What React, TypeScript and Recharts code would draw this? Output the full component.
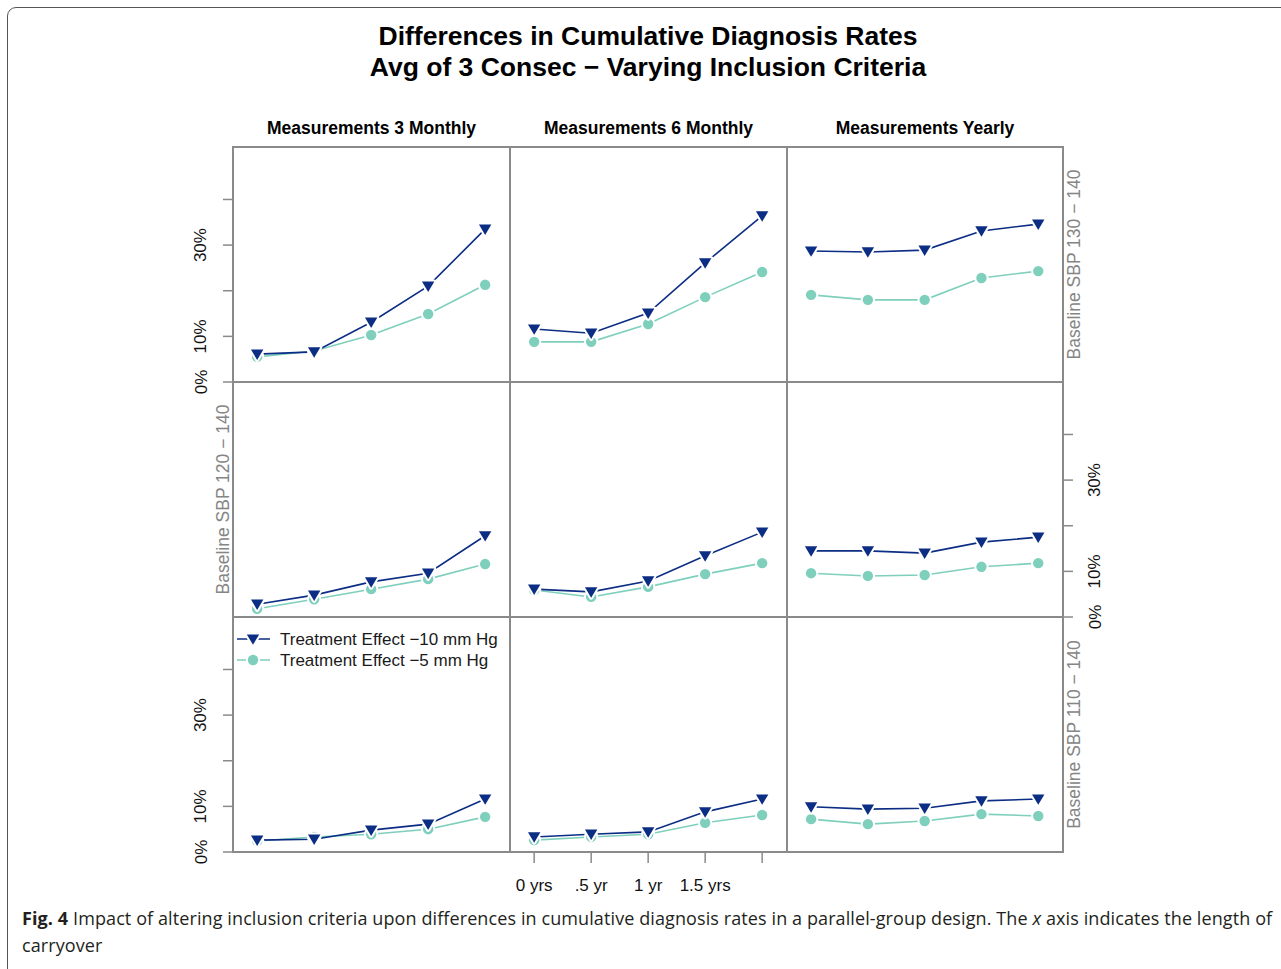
import React from "react";
import { LineChart, Line, XAxis, YAxis } from "recharts";

// carryover length (years) on the x axis
const carryover = [0, 0.5, 1, 1.5, 2];
const carryoverLabels = ["0 yrs", ".5 yr", "1 yr", "1.5 yrs", ""];

const schedules = ["Measurements 3 Monthly", "Measurements 6 Monthly", "Measurements Yearly"];
const baselines = ["Baseline SBP 130 − 140", "Baseline SBP 120 − 140", "Baseline SBP 110 − 140"];
const seriesNames = ["Treatment Effect −10 mm Hg", "Treatment Effect −5 mm Hg"];

const yTicks = [0, 10, 20, 30, 40];
const yTickLabels = ["0%", "10%", "", "30%", ""];

// differences in cumulative diagnosis rate (%), per baseline row / schedule column
const sbp130_3mo_fx10 = [6.1, 6.6, 13.1, 21.0, 33.5];
const sbp130_3mo_fx5 = [5.5, 6.8, 10.3, 14.9, 21.3];
const sbp130_6mo_fx10 = [11.6, 10.7, 15.1, 26.1, 36.4];
const sbp130_6mo_fx5 = [8.8, 8.8, 12.7, 18.6, 24.1];
const sbp130_yr_fx10 = [28.7, 28.5, 28.9, 33.1, 34.6];
const sbp130_yr_fx5 = [19.1, 18.0, 18.0, 22.8, 24.3];

const sbp120_3mo_fx10 = [2.8, 4.8, 7.7, 9.6, 17.8];
const sbp120_3mo_fx5 = [1.8, 3.9, 6.1, 8.3, 11.6];
const sbp120_6mo_fx10 = [6.1, 5.5, 7.9, 13.4, 18.6];
const sbp120_6mo_fx5 = [5.9, 4.4, 6.6, 9.4, 11.8];
const sbp120_yr_fx10 = [14.5, 14.5, 14.0, 16.4, 17.5];
const sbp120_yr_fx5 = [9.6, 9.0, 9.2, 11.0, 11.8];

const sbp110_3mo_fx10 = [2.6, 2.8, 4.8, 6.1, 11.6];
const sbp110_3mo_fx5 = [2.4, 3.3, 3.9, 5.0, 7.7];
const sbp110_6mo_fx10 = [3.3, 3.9, 4.4, 8.8, 11.6];
const sbp110_6mo_fx5 = [2.6, 3.3, 3.9, 6.4, 8.1];
const sbp110_yr_fx10 = [9.9, 9.4, 9.6, 11.2, 11.6];
const sbp110_yr_fx5 = [7.2, 6.1, 6.8, 8.3, 7.9];

const panels = [
  [[sbp130_3mo_fx10, sbp130_3mo_fx5], [sbp130_6mo_fx10, sbp130_6mo_fx5], [sbp130_yr_fx10, sbp130_yr_fx5]],
  [[sbp120_3mo_fx10, sbp120_3mo_fx5], [sbp120_6mo_fx10, sbp120_6mo_fx5], [sbp120_yr_fx10, sbp120_yr_fx5]],
  [[sbp110_3mo_fx10, sbp110_3mo_fx5], [sbp110_6mo_fx10, sbp110_6mo_fx5], [sbp110_yr_fx10, sbp110_yr_fx5]],
];

const NAVY = "#0c2d84";
const TEAL = "#7fcfbd";
const FRAME = "#8a8a8a";
const FONT = "'Liberation Sans', Arial, Helvetica, sans-serif";

const COL_X = [233, 510, 787];
const COL_W = [277, 277, 276];
const ROW_Y = [147, 382, 617];
const ROW_H = 235;
const PAD = 60;
const X_DOMAIN = [-0.212, 2.218];
const Y_DOMAIN = [0, 51.5];

function Triangle({ cx, cy }: { cx: number; cy: number }) {
  return (
    <path
      d={`M${cx - 6.2},${cy - 4.6} L${cx + 6.2},${cy - 4.6} L${cx},${cy + 5.8} Z`}
      fill={NAVY}
      stroke="#fff"
      strokeWidth={4}
      strokeLinejoin="round"
      paintOrder="stroke"
    />
  );
}

function Dot({ cx, cy }: { cx: number; cy: number }) {
  return <circle cx={cx} cy={cy} r={5.2} fill={TEAL} stroke="#fff" strokeWidth={4} paintOrder="stroke" />;
}

function Panel({ row, col }: { row: number; col: number }) {
  const [fx10, fx5] = panels[row][col];
  const left = col === 0 && row !== 1;
  const right = col === 2 && row === 1;
  const bottom = row === 2 && col === 1;
  const w = COL_W[col];
  const data = carryover.map((x, i) => ({ x, fx10: fx10[i], fx5: fx5[i] }));

  return (
    <div style={{ position: "absolute", left: COL_X[col] - PAD, top: ROW_Y[row] - PAD }}>
      <LineChart
        width={w + 2 * PAD}
        height={ROW_H + 2 * PAD}
        data={data}
        margin={{ top: PAD, left: left ? 0 : PAD, right: right ? 0 : PAD, bottom: bottom ? 0 : PAD }}
      >
        <XAxis
          type="number"
          dataKey="x"
          domain={X_DOMAIN}
          allowDataOverflow
          hide={!bottom}
          ticks={carryover}
          interval={0}
          height={PAD}
          tickSize={11}
          axisLine={false}
          tickLine={{ stroke: FRAME, strokeWidth: 1.5 }}
          tick={(p: any) => (
            <text
              x={p.x}
              y={PAD + ROW_H + 33}
              textAnchor="middle"
              dominantBaseline="central"
              fontFamily={FONT}
              fontSize={17}
              fill="#111"
            >
              {carryoverLabels[carryover.indexOf(p.payload.value)]}
            </text>
          )}
        />
        <YAxis
          type="number"
          domain={Y_DOMAIN}
          allowDataOverflow
          hide={!left && !right}
          orientation={right ? "right" : "left"}
          ticks={yTicks}
          interval={0}
          width={PAD}
          tickSize={10}
          axisLine={false}
          tickLine={{ stroke: FRAME, strokeWidth: 1.5 }}
          tick={(p: any) => {
            const tx = right ? PAD + w + 32 : PAD - 32;
            return (
              <text
                x={tx}
                y={p.y}
                transform={`rotate(-90, ${tx}, ${p.y})`}
                textAnchor="middle"
                dominantBaseline="central"
                fontFamily={FONT}
                fontSize={17}
                fill="#111"
              >
                {yTickLabels[yTicks.indexOf(p.payload.value)]}
              </text>
            );
          }}
        />
        <Line
          dataKey="fx5"
          stroke={TEAL}
          strokeWidth={1.6}
          isAnimationActive={false}
          dot={(p: any) => <Dot key={p.index} cx={p.cx} cy={p.cy} />}
          activeDot={false}
        />
        <Line
          dataKey="fx10"
          stroke={NAVY}
          strokeWidth={1.6}
          isAnimationActive={false}
          dot={(p: any) => <Triangle key={p.index} cx={p.cx} cy={p.cy} />}
          activeDot={false}
        />
      </LineChart>
    </div>
  );
}

export default function App() {
  const stripX = [1074, 223, 1074];
  return (
    <div style={{ position: "relative", width: 1281, height: 969, overflow: "hidden", background: "#fff" }}>
      <style>{"body{margin:0}"}</style>
      <div
        style={{
          position: "absolute",
          left: 7,
          top: 7,
          width: 1320,
          height: 1020,
          border: "1.5px solid #555",
          borderRadius: 9,
        }}
      />
      {ROW_Y.map((y, r) =>
        COL_X.map((x, c) => (
          <div
            key={`f${r}${c}`}
            style={{
              position: "absolute",
              left: x - 1,
              top: y - 1,
              width: COL_W[c] + 2,
              height: ROW_H + 2,
              boxSizing: "border-box",
              border: `2px solid ${FRAME}`,
            }}
          />
        ))
      )}
      {ROW_Y.map((_, r) => COL_X.map((__, c) => <Panel key={`p${r}${c}`} row={r} col={c} />))}
      <svg width={1281} height={969} style={{ position: "absolute", left: 0, top: 0, pointerEvents: "none" }}>
        <text x={648} y={36} textAnchor="middle" dominantBaseline="central" fontFamily={FONT} fontWeight="bold" fontSize={26.5} fill="#000">
          Differences in Cumulative Diagnosis Rates
        </text>
        <text x={648} y={67} textAnchor="middle" dominantBaseline="central" fontFamily={FONT} fontWeight="bold" fontSize={26.5} fill="#000">
          Avg of 3 Consec − Varying Inclusion Criteria
        </text>
        {schedules.map((s, c) => (
          <text
            key={s}
            x={COL_X[c] + COL_W[c] / 2}
            y={128}
            textAnchor="middle"
            dominantBaseline="central"
            fontFamily={FONT}
            fontWeight="bold"
            fontSize={17.5}
            fill="#000"
          >
            {s}
          </text>
        ))}
        {baselines.map((b, r) => {
          const cy = ROW_Y[r] + ROW_H / 2;
          return (
            <text
              key={b}
              x={stripX[r]}
              y={cy}
              transform={`rotate(-90, ${stripX[r]}, ${cy})`}
              textAnchor="middle"
              dominantBaseline="central"
              fontFamily={FONT}
              fontSize={17.5}
              fill="#858585"
            >
              {b}
            </text>
          );
        })}
        {seriesNames.map((n, i) => {
          const ly = 639 + i * 21;
          return (
            <g key={n}>
              <line x1={237} x2={270} y1={ly} y2={ly} stroke={i === 0 ? NAVY : TEAL} strokeWidth={1.6} />
              {i === 0 ? <Triangle cx={253} cy={ly} /> : <Dot cx={253} cy={ly} />}
              <text x={280} y={ly} dominantBaseline="central" fontFamily={FONT} fontSize={17} fill="#1a1a1a">
                {n}
              </text>
            </g>
          );
        })}
      </svg>
      <div
        style={{
          position: "absolute",
          left: 22,
          top: 905,
          fontFamily: "'Open Sans', sans-serif",
          fontSize: 18,
          letterSpacing: 0.1,
          lineHeight: "27px",
          color: "#231f20",
          whiteSpace: "nowrap",
        }}
      >
        <b>Fig. 4</b> Impact of altering inclusion criteria upon differences in cumulative diagnosis rates in a
        parallel-group design. The <i>x</i> axis indicates the length of
        <br />
        carryover
      </div>
    </div>
  );
}
